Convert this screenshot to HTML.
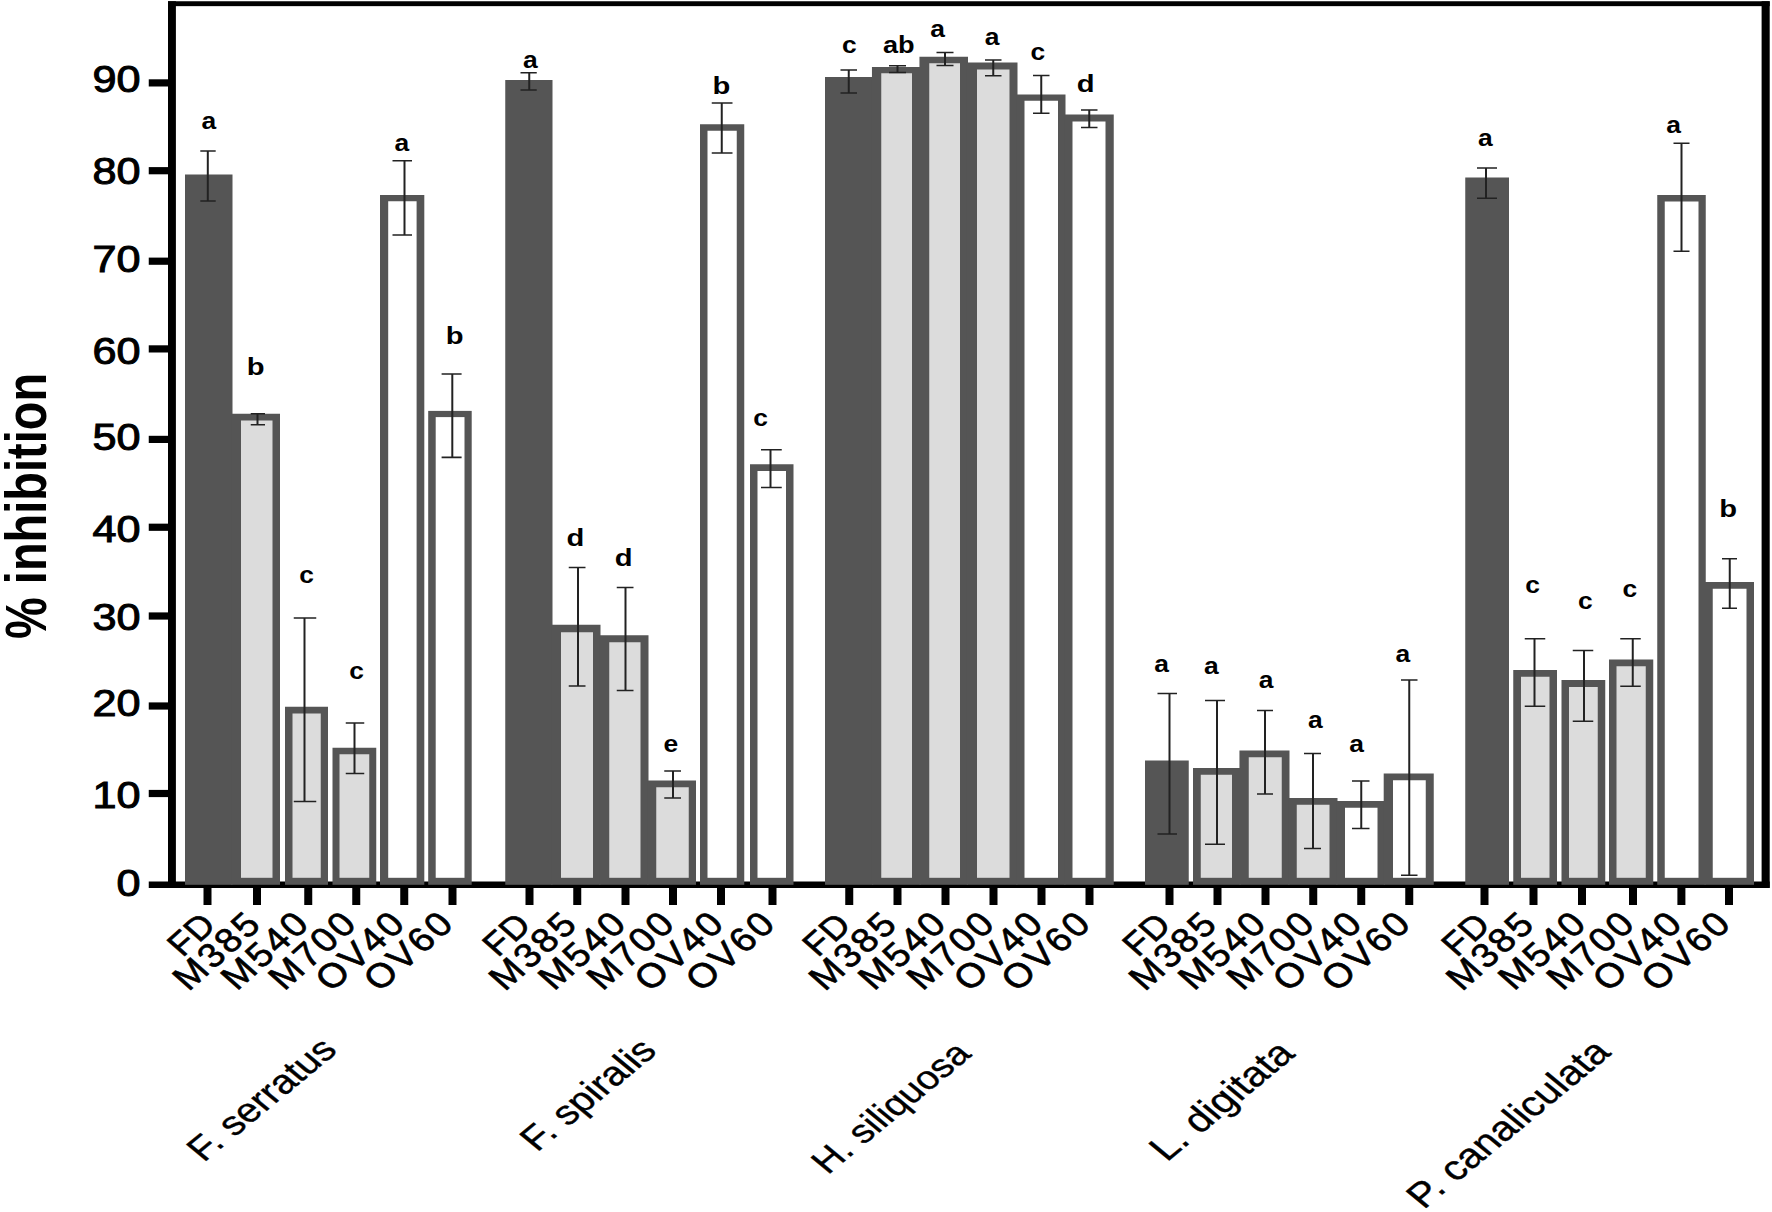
<!DOCTYPE html>
<html lang="en"><head><meta charset="utf-8"><title>% inhibition chart</title>
<style>html,body{margin:0;padding:0;background:#fff;}body{width:1772px;height:1212px;overflow:hidden;}svg{display:block;}text{font-family:"Liberation Sans",sans-serif;fill:#000;}</style></head><body>
<svg width="1772" height="1212" viewBox="0 0 1772 1212">
<rect x="0" y="0" width="1772" height="1212" fill="#fff"/>
<rect x="148.75" y="881.5" width="1620.95" height="6.5" fill="#000"/>
<g id="bars">
<rect x="185" y="174.5" width="47.50" height="710.30" fill="#555555"/>
<rect x="231.2" y="413.75" width="48.80" height="471.05" fill="#555555"/>
<rect x="241" y="420.5" width="31.50" height="457.30" fill="#dcdcdc"/>
<rect x="285" y="706.75" width="43.00" height="178.05" fill="#555555"/>
<rect x="292.5" y="713.5" width="28.25" height="164.30" fill="#dcdcdc"/>
<rect x="332.5" y="747.75" width="43.75" height="137.05" fill="#555555"/>
<rect x="339.5" y="754.25" width="29.75" height="123.55" fill="#dcdcdc"/>
<rect x="380" y="195" width="44.30" height="689.80" fill="#555555"/>
<rect x="388.2" y="201.25" width="28.40" height="676.55" fill="#ffffff"/>
<rect x="428.2" y="410.9" width="43.50" height="473.90" fill="#555555"/>
<rect x="435.7" y="417.1" width="28.80" height="460.70" fill="#ffffff"/>
<rect x="505.25" y="80" width="47.25" height="804.80" fill="#555555"/>
<rect x="551.2" y="624.75" width="49.30" height="260.05" fill="#555555"/>
<rect x="561" y="632.25" width="32.00" height="245.55" fill="#dcdcdc"/>
<rect x="599.2" y="635.25" width="49.30" height="249.55" fill="#555555"/>
<rect x="609.25" y="642.25" width="31.25" height="235.55" fill="#dcdcdc"/>
<rect x="647.2" y="780.5" width="48.80" height="104.30" fill="#555555"/>
<rect x="656.25" y="787.25" width="32.50" height="90.55" fill="#dcdcdc"/>
<rect x="700" y="124.25" width="44.25" height="760.55" fill="#555555"/>
<rect x="707.5" y="130.75" width="29.25" height="747.05" fill="#ffffff"/>
<rect x="750" y="464.25" width="43.50" height="420.55" fill="#555555"/>
<rect x="757.5" y="471" width="28.50" height="406.80" fill="#ffffff"/>
<rect x="825" y="77" width="48.25" height="807.80" fill="#555555"/>
<rect x="871.95" y="67" width="48.80" height="817.80" fill="#555555"/>
<rect x="881.25" y="73.25" width="30.75" height="804.55" fill="#dcdcdc"/>
<rect x="919.45" y="56.75" width="48.55" height="828.05" fill="#555555"/>
<rect x="929.25" y="63.25" width="30.75" height="814.55" fill="#dcdcdc"/>
<rect x="966.7" y="62.5" width="50.80" height="822.30" fill="#555555"/>
<rect x="977" y="69.5" width="32.50" height="808.30" fill="#dcdcdc"/>
<rect x="1016.2" y="94.5" width="49.30" height="790.30" fill="#555555"/>
<rect x="1024.5" y="100.75" width="33.50" height="777.05" fill="#ffffff"/>
<rect x="1064.2" y="114.5" width="49.55" height="770.30" fill="#555555"/>
<rect x="1072.5" y="121.5" width="33.00" height="756.30" fill="#ffffff"/>
<rect x="1145" y="760.5" width="43.75" height="124.30" fill="#555555"/>
<rect x="1193" y="768" width="47.75" height="116.80" fill="#555555"/>
<rect x="1200.75" y="774.75" width="31.25" height="103.05" fill="#dcdcdc"/>
<rect x="1239.45" y="750.5" width="50.05" height="134.30" fill="#555555"/>
<rect x="1248.75" y="757.25" width="33.00" height="120.55" fill="#dcdcdc"/>
<rect x="1288.2" y="798" width="49.30" height="86.80" fill="#555555"/>
<rect x="1296.75" y="804.75" width="32.75" height="73.05" fill="#dcdcdc"/>
<rect x="1336.2" y="801" width="48.80" height="83.80" fill="#555555"/>
<rect x="1345" y="807.75" width="32.50" height="70.05" fill="#ffffff"/>
<rect x="1383.7" y="773.5" width="50.05" height="111.30" fill="#555555"/>
<rect x="1393" y="780.25" width="32.75" height="97.55" fill="#ffffff"/>
<rect x="1465.25" y="177.5" width="43.75" height="707.30" fill="#555555"/>
<rect x="1513.25" y="670" width="43.75" height="214.80" fill="#555555"/>
<rect x="1521" y="676.75" width="28.50" height="201.05" fill="#dcdcdc"/>
<rect x="1561.5" y="680" width="43.75" height="204.80" fill="#555555"/>
<rect x="1569" y="687" width="28.75" height="190.80" fill="#dcdcdc"/>
<rect x="1609" y="659.5" width="44.25" height="225.30" fill="#555555"/>
<rect x="1616.5" y="666.25" width="29.25" height="211.55" fill="#dcdcdc"/>
<rect x="1657.25" y="195" width="48.50" height="689.80" fill="#555555"/>
<rect x="1664.75" y="201.5" width="33.75" height="676.30" fill="#ffffff"/>
<rect x="1704.45" y="582" width="49.55" height="302.80" fill="#555555"/>
<rect x="1712.75" y="588.75" width="33.75" height="289.05" fill="#ffffff"/>
</g>
<g id="errs" stroke="#222222" fill="none">
<path stroke-width="2" d="M207.8 151V201"/><path stroke-width="1.7" d="M200.3 151H215.7M200.3 201H215.7"/>
<path stroke-width="2" d="M257.5 413.75V424.75"/><path stroke-width="1.7" d="M250.75 413.75H265M250.75 424.75H265"/>
<path stroke-width="2" d="M304.5 618V801.5"/><path stroke-width="1.7" d="M293.75 618H316.25M293.75 801.5H316.25"/>
<path stroke-width="2" d="M354.5 723V773.5"/><path stroke-width="1.7" d="M345.75 723H364.25M345.75 773.5H364.25"/>
<path stroke-width="2" d="M404.5 160.75V235"/><path stroke-width="1.7" d="M392.5 160.75H412M392.5 235H412"/>
<path stroke-width="2" d="M452.3 374V457.4"/><path stroke-width="1.7" d="M441.6 374H461.6M441.6 457.4H461.6"/>
<path stroke-width="2" d="M529.25 72.75V90"/><path stroke-width="1.7" d="M520.5 72.75H536.75M520.5 90H536.75"/>
<path stroke-width="2" d="M578 567.5V686"/><path stroke-width="1.7" d="M568.75 567.5H585.5M568.75 686H585.5"/>
<path stroke-width="2" d="M625.5 587.5V690.5"/><path stroke-width="1.7" d="M616.75 587.5H633.5M616.75 690.5H633.5"/>
<path stroke-width="2" d="M673 771V798"/><path stroke-width="1.7" d="M664.25 771H681M664.25 798H681"/>
<path stroke-width="2" d="M721.75 103V153"/><path stroke-width="1.7" d="M711.75 103H732.5M711.75 153H732.5"/>
<path stroke-width="2" d="M770.5 449.75V487.5"/><path stroke-width="1.7" d="M761 449.75H781.75M761 487.5H781.75"/>
<path stroke-width="2" d="M848.75 70V93"/><path stroke-width="1.7" d="M840.5 70H857M840.5 93H857"/>
<path stroke-width="2" d="M897.5 65.75V72.5"/><path stroke-width="1.7" d="M889 65.75H906M889 72.5H906"/>
<path stroke-width="2" d="M945 52.5V65.5"/><path stroke-width="1.7" d="M936.5 52.5H953.5M936.5 65.5H953.5"/>
<path stroke-width="2" d="M993.25 60V75.75"/><path stroke-width="1.7" d="M985 60H1001.5M985 75.75H1001.5"/>
<path stroke-width="2" d="M1041.25 75.5V113.25"/><path stroke-width="1.7" d="M1033 75.5H1049.5M1033 113.25H1049.5"/>
<path stroke-width="2" d="M1089.25 110V127.5"/><path stroke-width="1.7" d="M1081 110H1097.5M1081 127.5H1097.5"/>
<path stroke-width="2" d="M1169.5 693.5V834"/><path stroke-width="1.7" d="M1157.5 693.5H1177M1157.5 834H1177"/>
<path stroke-width="2" d="M1217 700.5V844.25"/><path stroke-width="1.7" d="M1205 700.5H1225M1205 844.25H1225"/>
<path stroke-width="2" d="M1265 710.5V794"/><path stroke-width="1.7" d="M1257 710.5H1273M1257 794H1273"/>
<path stroke-width="2" d="M1313 753.5V848.5"/><path stroke-width="1.7" d="M1304 753.5H1321M1304 848.5H1321"/>
<path stroke-width="2" d="M1361.25 781V828.5"/><path stroke-width="1.7" d="M1352 781H1369.5M1352 828.5H1369.5"/>
<path stroke-width="2" d="M1409.25 680V875.25"/><path stroke-width="1.7" d="M1401 680H1417.5M1401 875.25H1417.5"/>
<path stroke-width="2" d="M1486 168V198.25"/><path stroke-width="1.7" d="M1477 168H1497M1477 198.25H1497"/>
<path stroke-width="2" d="M1534.5 638.75V706.25"/><path stroke-width="1.7" d="M1524.75 638.75H1545.25M1524.75 706.25H1545.25"/>
<path stroke-width="2" d="M1584 650.5V721.25"/><path stroke-width="1.7" d="M1572.75 650.5H1593.25M1572.75 721.25H1593.25"/>
<path stroke-width="2" d="M1632.75 638.75V686.25"/><path stroke-width="1.7" d="M1620.25 638.75H1640.75M1620.25 686.25H1640.75"/>
<path stroke-width="2" d="M1681.5 143.25V251.25"/><path stroke-width="1.7" d="M1673.5 143.25H1689.5M1673.5 251.25H1689.5"/>
<path stroke-width="2" d="M1729.75 558.75V608.25"/><path stroke-width="1.7" d="M1722 558.75H1737M1722 608.25H1737"/>
</g>
<g id="frame" fill="#000">
<rect x="168" y="1.25" width="7.9" height="886.5"/>
<rect x="168" y="1.25" width="1601.7" height="4.9"/>
<rect x="1761.6" y="1.25" width="8.1" height="886.5"/>
<rect x="148.75" y="789.90" width="20" height="7.2"/>
<rect x="148.75" y="702.40" width="20" height="7.2"/>
<rect x="148.75" y="612.40" width="20" height="7.2"/>
<rect x="148.75" y="523.65" width="20" height="7.2"/>
<rect x="148.75" y="435.80" width="20" height="7.2"/>
<rect x="148.75" y="345.30" width="20" height="7.2"/>
<rect x="148.75" y="257.60" width="20" height="7.2"/>
<rect x="148.75" y="167.10" width="20" height="7.2"/>
<rect x="148.75" y="79.30" width="20" height="7.2"/>
<rect x="203.50" y="886" width="8" height="19"/>
<rect x="253.00" y="886" width="8" height="19"/>
<rect x="304.25" y="886" width="8" height="19"/>
<rect x="352.25" y="886" width="8" height="19"/>
<rect x="400.25" y="886" width="8" height="19"/>
<rect x="448.50" y="886" width="8" height="19"/>
<rect x="525.50" y="886" width="8" height="19"/>
<rect x="573.25" y="886" width="8" height="19"/>
<rect x="621.50" y="886" width="8" height="19"/>
<rect x="669.00" y="886" width="8" height="19"/>
<rect x="717.00" y="886" width="8" height="19"/>
<rect x="768.50" y="886" width="8" height="19"/>
<rect x="845.25" y="886" width="8" height="19"/>
<rect x="893.50" y="886" width="8" height="19"/>
<rect x="941.50" y="886" width="8" height="19"/>
<rect x="989.50" y="886" width="8" height="19"/>
<rect x="1037.50" y="886" width="8" height="19"/>
<rect x="1085.50" y="886" width="8" height="19"/>
<rect x="1165.50" y="886" width="8" height="19"/>
<rect x="1213.50" y="886" width="8" height="19"/>
<rect x="1261.50" y="886" width="8" height="19"/>
<rect x="1309.25" y="886" width="8" height="19"/>
<rect x="1357.25" y="886" width="8" height="19"/>
<rect x="1405.25" y="886" width="8" height="19"/>
<rect x="1480.50" y="886" width="8" height="19"/>
<rect x="1529.50" y="886" width="8" height="19"/>
<rect x="1578.00" y="886" width="8" height="19"/>
<rect x="1629.00" y="886" width="8" height="19"/>
<rect x="1677.40" y="886" width="8" height="19"/>
<rect x="1725.00" y="886" width="8" height="19"/>
</g>
<g id="ylabels" font-size="36.6" text-anchor="end" stroke="#000" stroke-width="1">
<text transform="translate(140.5,895.9) scale(1.18,1)">0</text>
<text transform="translate(140.5,807.6) scale(1.18,1)">10</text>
<text transform="translate(140.5,716.3) scale(1.18,1)">20</text>
<text transform="translate(140.5,630.1) scale(1.18,1)">30</text>
<text transform="translate(140.5,542.2) scale(1.18,1)">40</text>
<text transform="translate(140.5,450.3) scale(1.18,1)">50</text>
<text transform="translate(140.5,363.7) scale(1.18,1)">60</text>
<text transform="translate(140.5,272.1) scale(1.18,1)">70</text>
<text transform="translate(140.5,183.7) scale(1.18,1)">80</text>
<text transform="translate(140.5,92.3) scale(1.18,1)">90</text>
</g>
<text id="ytitle" transform="translate(45.6,639) scale(1.22,1) rotate(-90)" font-size="47" font-weight="bold">% inhibition</text>
<g id="letters" font-weight="bold" text-anchor="middle">
<text font-size="23" transform="translate(208.75,129.2) scale(1.15,1)">a</text>
<text font-size="24.3" transform="translate(255.62,375.2) scale(1.2,1)">b</text>
<text font-size="23" transform="translate(306.50,583.2) scale(1.15,1)">c</text>
<text font-size="23" transform="translate(356.50,679.45) scale(1.15,1)">c</text>
<text font-size="23" transform="translate(401.75,150.95) scale(1.15,1)">a</text>
<text font-size="24.3" transform="translate(454.55,344.09999999999997) scale(1.2,1)">b</text>
<text font-size="23" transform="translate(530.25,68.45) scale(1.15,1)">a</text>
<text font-size="24.3" transform="translate(575.38,546.45) scale(1.2,1)">d</text>
<text font-size="24.3" transform="translate(623.62,565.95) scale(1.2,1)">d</text>
<text font-size="23" transform="translate(670.75,752.45) scale(1.15,1)">e</text>
<text font-size="24.3" transform="translate(721.50,94.2) scale(1.2,1)">b</text>
<text font-size="23" transform="translate(760.50,425.95) scale(1.15,1)">c</text>
<text font-size="23" transform="translate(849.38,52.95) scale(1.15,1)">c</text>
<text font-size="23.6" transform="translate(898.75,52.95) scale(1.15,1)">ab</text>
<text font-size="23" transform="translate(937.50,37.2) scale(1.15,1)">a</text>
<text font-size="23" transform="translate(992.12,44.7) scale(1.15,1)">a</text>
<text font-size="23" transform="translate(1037.88,60.45) scale(1.15,1)">c</text>
<text font-size="24.3" transform="translate(1085.62,92.2) scale(1.2,1)">d</text>
<text font-size="23" transform="translate(1161.62,671.95) scale(1.15,1)">a</text>
<text font-size="23" transform="translate(1211.25,674.45) scale(1.15,1)">a</text>
<text font-size="23" transform="translate(1266.12,687.7) scale(1.15,1)">a</text>
<text font-size="23" transform="translate(1315.38,728.2) scale(1.15,1)">a</text>
<text font-size="23" transform="translate(1356.62,752.45) scale(1.15,1)">a</text>
<text font-size="23" transform="translate(1402.88,661.95) scale(1.15,1)">a</text>
<text font-size="23" transform="translate(1485.25,146.45) scale(1.15,1)">a</text>
<text font-size="23" transform="translate(1532.50,592.95) scale(1.15,1)">c</text>
<text font-size="23" transform="translate(1585.25,608.95) scale(1.15,1)">c</text>
<text font-size="23" transform="translate(1629.75,597.2) scale(1.15,1)">c</text>
<text font-size="23" transform="translate(1673.62,133.45) scale(1.15,1)">a</text>
<text font-size="24.3" transform="translate(1728.12,517.2) scale(1.2,1)">b</text>
</g>
<g id="xlabels" font-size="34" text-anchor="end" letter-spacing="2.4" stroke="#000" stroke-width="0.65">
<text letter-spacing="0.6" font-size="32.5" transform="translate(218.00,926.5) scale(1.13,1) rotate(-45)">FD</text>
<text transform="translate(264.00,925) scale(1.13,1) rotate(-45)">M385</text>
<text transform="translate(312.40,924.5) scale(1.13,1) rotate(-45)">M540</text>
<text transform="translate(359.90,924.5) scale(1.13,1) rotate(-45)">M700</text>
<text transform="translate(408.30,924.5) scale(1.13,1) rotate(-45)">OV40</text>
<text transform="translate(456.70,924.5) scale(1.13,1) rotate(-45)">OV60</text>
<text letter-spacing="0.6" font-size="32.5" transform="translate(533.30,926.5) scale(1.13,1) rotate(-45)">FD</text>
<text transform="translate(580.30,925) scale(1.13,1) rotate(-45)">M385</text>
<text transform="translate(629.60,924.5) scale(1.13,1) rotate(-45)">M540</text>
<text transform="translate(678.00,924.5) scale(1.13,1) rotate(-45)">M700</text>
<text transform="translate(727.40,924.5) scale(1.13,1) rotate(-45)">OV40</text>
<text transform="translate(778.60,924.5) scale(1.13,1) rotate(-45)">OV60</text>
<text letter-spacing="0.6" font-size="32.5" transform="translate(853.30,926.5) scale(1.13,1) rotate(-45)">FD</text>
<text transform="translate(900.30,925) scale(1.13,1) rotate(-45)">M385</text>
<text transform="translate(949.60,924.5) scale(1.13,1) rotate(-45)">M540</text>
<text transform="translate(998.00,924.5) scale(1.13,1) rotate(-45)">M700</text>
<text transform="translate(1046.50,924.5) scale(1.13,1) rotate(-45)">OV40</text>
<text transform="translate(1094.00,924.5) scale(1.13,1) rotate(-45)">OV60</text>
<text letter-spacing="0.6" font-size="32.5" transform="translate(1173.30,926.5) scale(1.13,1) rotate(-45)">FD</text>
<text transform="translate(1220.30,925) scale(1.13,1) rotate(-45)">M385</text>
<text transform="translate(1269.60,924.5) scale(1.13,1) rotate(-45)">M540</text>
<text transform="translate(1318.00,924.5) scale(1.13,1) rotate(-45)">M700</text>
<text transform="translate(1365.50,924.5) scale(1.13,1) rotate(-45)">OV40</text>
<text transform="translate(1414.00,924.5) scale(1.13,1) rotate(-45)">OV60</text>
<text letter-spacing="0.6" font-size="32.5" transform="translate(1492.40,926.5) scale(1.13,1) rotate(-45)">FD</text>
<text transform="translate(1537.50,925) scale(1.13,1) rotate(-45)">M385</text>
<text transform="translate(1589.60,924.5) scale(1.13,1) rotate(-45)">M540</text>
<text transform="translate(1638.00,924.5) scale(1.13,1) rotate(-45)">M700</text>
<text transform="translate(1685.50,924.5) scale(1.13,1) rotate(-45)">OV40</text>
<text transform="translate(1734.00,924.5) scale(1.13,1) rotate(-45)">OV60</text>
</g>
<g id="groups" text-anchor="end" stroke="#000" stroke-width="0.4">
<text font-size="33.8" transform="translate(338.60,1051.50) scale(1.21,1) rotate(-45)">F. serratus</text>
<text font-size="34.0" transform="translate(658.25,1052.50) scale(1.21,1) rotate(-45)">F. spiralis</text>
<text font-size="32.8" transform="translate(972.70,1055.40) scale(1.21,1) rotate(-45)">H. siliquosa</text>
<text font-size="35.0" transform="translate(1296.50,1055.20) scale(1.21,1) rotate(-45)">L. digitata</text>
<text font-size="34.6" transform="translate(1612.30,1054.00) scale(1.21,1) rotate(-45)">P. canaliculata</text>
</g>
</svg></body></html>
